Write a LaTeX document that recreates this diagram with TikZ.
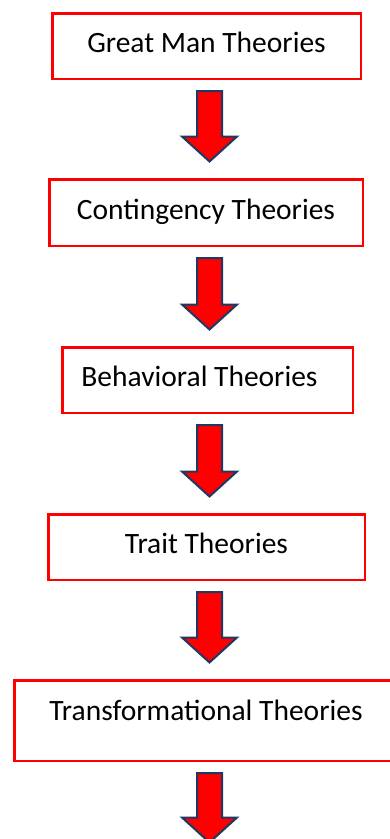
\documentclass[tikz,border=0pt]{standalone}
\usepackage{fontspec}
\setmainfont{Carlito}
\usepackage{tikz}
\usetikzlibrary{calc, positioning}
\definecolor{boxred}{HTML}{FF0000}
\definecolor{arrowline}{HTML}{1F3864}
\tikzset{
    theory/.style={rectangle, draw=boxred, line width=2.5pt, fill=white, text centered, font=\fontsize{29.5}{35}\selectfont, text height=20pt, text depth=8pt, inner sep=0pt},
    blockarrow/.style={draw=arrowline, line width=2pt, fill=boxred, line join=miter},
}

\begin{document}
\begin{tikzpicture}[x=1pt, y=-1pt]
    \clip (0,0) rectangle (390,839);
    \fill [white] (0,0) rectangle (390,839);
    \coordinate (axis) at (209.5,0);
    % Theory boxes
    \node [theory, minimum width=308.5pt, minimum height=65.5pt] (greatman) at (206.5,46) {Great Man Theories};
    \node [theory, minimum width=313.5pt, minimum height=66.5pt, text depth=6pt] (contingency) at (206,212.5) {Contingency Theories};
    \node [theory, minimum width=290.5pt, minimum height=65.5pt] (behavioral) at (207.5,380) {Behavioral Theories\hspace*{16pt}};
    \node [theory, minimum width=316.5pt, minimum height=65.5pt] (trait) at (206.5,547) {Trait Theories};
    \node [theory, minimum width=383.5pt, minimum height=80.5pt, text depth=21pt] (transformational) at (206,720.5) {Transformational Theories};
    % Open end of the last arrow
    \coordinate (tail) at (209.5,859);
    % Block arrows
    \foreach \a/\b in {greatman/contingency, contingency/behavioral, behavioral/trait, trait/transformational, transformational/tail} {
        \coordinate (s) at ($(axis |- \a.south)+(0,11)$);
        \coordinate (t) at ($(axis |- \b.north)+(0,-16.5)$);
        \draw [blockarrow] ($(s)+(-12.5,0)$) -- ($(s)+(12.5,0)$) -- ($(t)+(12.5,-25)$) -- ($(t)+(27.5,-25)$)
            -- (t) -- ($(t)+(-27.5,-25)$) -- ($(t)+(-12.5,-25)$) -- cycle;
    }
\end{tikzpicture}
\end{document}
